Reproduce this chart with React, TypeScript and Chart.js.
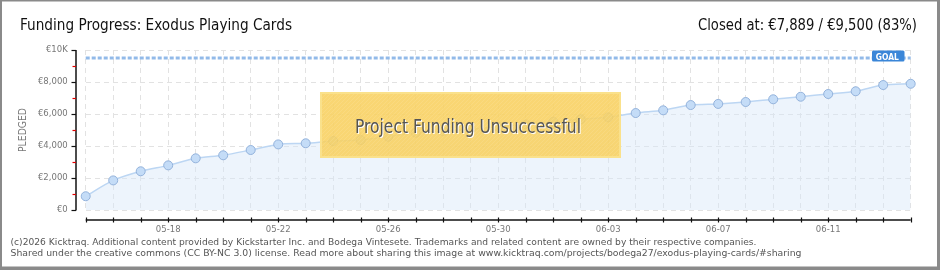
import React, { useEffect, useRef } from 'react';
import { Chart, registerables } from 'chart.js';

Chart.register(...registerables);

const titleLeft = 'Funding Progress: Exodus Playing Cards';
const titleRight = 'Closed at: €7,889 / €9,500 (83%)';
const overlayText = 'Project Funding Unsuccessful';
const footerLines = [
  '(c)2026 Kicktraq. Additional content provided by Kickstarter Inc. and Bodega Vintesete. Trademarks and related content are owned by their respective companies.',
  'Shared under the creative commons (CC BY-NC 3.0) license. Read more about sharing this image at www.kicktraq.com/projects/bodega27/exodus-playing-cards/#sharing',
];

const dates = [
  '05-15', '05-16', '05-17', '05-18', '05-19', '05-20', '05-21', '05-22',
  '05-23', '05-24', '05-25', '05-26', '05-27', '05-28', '05-29', '05-30',
  '05-31', '06-01', '06-02', '06-03', '06-04', '06-05', '06-06', '06-07',
  '06-08', '06-09', '06-10', '06-11', '06-12', '06-13', '06-14',
];
const shownDates = ['05-18', '05-22', '05-26', '05-30', '06-03', '06-07', '06-11'];

const pledged = [
  860, 1850, 2420, 2790, 3230, 3420, 3750, 4100, 4170, 4310, 4370, 4580, 4830,
  4920, 5050, 5200, 5350, 5520, 5670, 5790, 6060, 6230, 6560, 6630, 6750, 6920,
  7080, 7250, 7420, 7810, 7889,
];
const goal = 9500;
const goalSeries = dates.map(() => goal);

const yMax = 10000;
const yStep = 2000;
const yMinorStep = 1000;

const FONT = '"DejaVu Sans", sans-serif';
const FONT_C = '"DejaVu Sans Condensed", "DejaVu Sans", sans-serif';

function drawFitted(
  ctx: CanvasRenderingContext2D,
  text: string,
  x: number,
  y: number,
  font: string,
  width: number,
  align: 'left' | 'right' | 'center',
) {
  ctx.save();
  ctx.font = font;
  const w = ctx.measureText(text).width;
  const s = width / w;
  let x0 = x;
  if (align === 'right') x0 = x - width;
  if (align === 'center') x0 = x - width / 2;
  ctx.translate(x0, y);
  ctx.scale(s, 1);
  ctx.textAlign = 'left';
  ctx.textBaseline = 'alphabetic';
  ctx.fillText(text, 0, 0);
  ctx.restore();
}

const decor = {
  id: 'decor',
  beforeDraw(chart: any) {
    const ctx = chart.ctx as CanvasRenderingContext2D;
    ctx.save();
    ctx.fillStyle = '#ffffff';
    ctx.fillRect(0, 0, chart.width, chart.height);
    ctx.restore();
  },
  afterDatasetsDraw(chart: any) {
    const ctx = chart.ctx as CanvasRenderingContext2D;
    const x0 = 320, y0 = 92, w = 301, h = 66;
    ctx.save();
    ctx.fillStyle = 'rgba(248, 208, 96, 0.88)';
    ctx.fillRect(x0, y0, w, h);
    ctx.beginPath();
    ctx.rect(x0, y0, w, h);
    ctx.clip();
    ctx.strokeStyle = 'rgba(255, 240, 190, 0.18)';
    ctx.lineWidth = 1;
    for (let i = -h; i < w + h; i += 4) {
      ctx.beginPath();
      ctx.moveTo(x0 + i, y0 + h);
      ctx.lineTo(x0 + i + h, y0);
      ctx.stroke();
    }
    ctx.restore();
    ctx.save();
    ctx.strokeStyle = 'rgba(250, 226, 140, 0.95)';
    ctx.lineWidth = 2;
    ctx.strokeRect(x0 + 1, y0 + 1, w - 2, h - 2);
    ctx.restore();
    ctx.save();
    ctx.shadowColor = '#ffffff';
    ctx.shadowOffsetX = 1;
    ctx.shadowOffsetY = 1;
    ctx.shadowBlur = 0;
    ctx.fillStyle = '#555555';
    drawFitted(ctx, overlayText, 468, 133, `19.5px ${FONT_C}`, 226, 'center');
    ctx.restore();
  },
  afterDraw(chart: any) {
    const ctx = chart.ctx as CanvasRenderingContext2D;
    const xs = chart.scales.x;
    const ys = chart.scales.y;

    // outer frame
    ctx.save();
    ctx.fillStyle = '#8a8a8a';
    ctx.fillRect(0, 0, 940, 1.5);
    ctx.fillRect(0, 0, 2, 270);
    ctx.fillRect(937, 0, 3, 270);
    ctx.fillRect(0, 266.5, 940, 3.5);
    ctx.restore();

    // titles
    ctx.save();
    ctx.fillStyle = '#111111';
    drawFitted(ctx, titleLeft, 20, 29.5, `15px ${FONT_C}`, 272, 'left');
    drawFitted(ctx, titleRight, 917, 29.5, `15px ${FONT_C}`, 219, 'right');
    ctx.restore();

    // y axis line and ticks
    const axX = 76;
    ctx.save();
    ctx.strokeStyle = '#111111';
    ctx.lineWidth = 1.5;
    ctx.beginPath();
    ctx.moveTo(axX, ys.getPixelForValue(yMax));
    ctx.lineTo(axX, ys.getPixelForValue(0) + 0.5);
    ctx.stroke();
    for (let v = 0; v <= yMax; v += yMinorStep) {
      const py = Math.round(ys.getPixelForValue(v)) + 0.5;
      const major = v % yStep === 0;
      ctx.strokeStyle = major ? '#111111' : '#e00000';
      ctx.lineWidth = 1.2;
      ctx.beginPath();
      ctx.moveTo(major ? 71.5 : 72.5, py);
      ctx.lineTo(axX, py);
      ctx.stroke();
    }
    ctx.restore();

    // x axis line and ticks
    const axY = 220;
    ctx.save();
    ctx.strokeStyle = '#111111';
    ctx.lineWidth = 1.5;
    ctx.beginPath();
    ctx.moveTo(xs.getPixelForValue(0), axY);
    ctx.lineTo(xs.getPixelForValue(dates.length - 1), axY);
    ctx.stroke();
    ctx.lineWidth = 1.2;
    for (let i = 0; i < dates.length; i++) {
      const px = Math.round(xs.getPixelForValue(i)) + 0.5;
      ctx.beginPath();
      ctx.moveTo(px, axY - 2.5);
      ctx.lineTo(px, axY + 2.5);
      ctx.stroke();
    }
    ctx.restore();

    // y axis title
    ctx.save();
    ctx.fillStyle = '#777777';
    ctx.translate(25.5, 130);
    ctx.rotate(-Math.PI / 2);
    drawFitted(ctx, 'PLEDGED', 0, 0, `10px ${FONT}`, 44, 'center');
    ctx.restore();

    // GOAL label
    const gy = ys.getPixelForValue(goal);
    const bx1 = 872, bx2 = 904.5;
    ctx.save();
    ctx.fillStyle = '#3a86d8';
    ctx.beginPath();
    ctx.roundRect(bx1, gy - 7.5, bx2 - bx1, 11, 1.5);
    ctx.fill();
    ctx.fillStyle = '#ffffff';
    drawFitted(ctx, 'GOAL', (bx1 + bx2) / 2 - 1, gy + 1.5, `bold 9.5px ${FONT}`, 23, 'center');
    ctx.restore();

    // footer
    ctx.save();
    ctx.fillStyle = '#555555';
    drawFitted(ctx, footerLines[0], 10.5, 245, `9px ${FONT}`, 746, 'left');
    drawFitted(ctx, footerLines[1], 10.5, 255.5, `9px ${FONT}`, 791, 'left');
    ctx.restore();
  },
};

export default function App() {
  const ref = useRef<HTMLCanvasElement | null>(null);

  useEffect(() => {
    document.body.style.margin = '0';
    const canvas = ref.current;
    if (!canvas) return;
    const chart = new Chart(canvas, {
      type: 'line',
      data: {
        labels: dates,
        datasets: [
          {
            label: 'Goal',
            data: goalSeries,
            borderColor: 'rgba(140, 182, 232, 0.95)',
            borderWidth: 3,
            borderDash: [4, 2],
            pointRadius: 0,
            fill: false,
            tension: 0,
          },
          {
            label: 'Pledged',
            data: pledged,
            borderColor: '#bcd6f3',
            borderWidth: 1.5,
            backgroundColor: 'rgba(214, 230, 249, 0.45)',
            fill: 'origin',
            tension: 0.3,
            pointRadius: 4.5,
            pointBackgroundColor: '#c4dcf7',
            pointBorderColor: '#94b3dc',
            pointBorderWidth: 1,
          },
        ],
      },
      options: {
        responsive: false,
        animation: false,
        devicePixelRatio: 1,
        layout: { padding: { left: 0, top: 50, right: 29.3, bottom: 0 } },
        plugins: {
          legend: { display: false },
          tooltip: { enabled: false },
          title: { display: false },
        },
        scales: {
          x: {
            type: 'category',
            offset: false,
            afterFit: (s: any) => { s.height = 60; },
            border: { display: false, dash: [5, 4] },
            grid: { color: '#e2e2e2', lineWidth: 1, drawTicks: false },
            ticks: {
              autoSkip: false,
              maxRotation: 0,
              padding: 15,
              color: '#777777',
              font: { family: FONT, size: 8.5 },
              callback: (_v: any, i: number) => (shownDates.includes(dates[i]) ? dates[i] : ''),
            },
          },
          y: {
            min: 0,
            max: yMax,
            afterFit: (s: any) => { s.width = 85.7; },
            border: { display: false, dash: [5, 4] },
            grid: { color: '#e2e2e2', lineWidth: 1, drawTicks: false },
            ticks: {
              stepSize: yStep,
              padding: 18,
              color: '#777777',
              font: { family: FONT, size: 8.5 },
              callback: (v: any) => (v === yMax ? '€10K' : '€' + Number(v).toLocaleString('en-US')),
            },
          },
        },
      },
      plugins: [decor],
    });
    return () => chart.destroy();
  }, []);

  return (
    <div style={{ width: 940, height: 270 }}>
      <canvas ref={ref} width={940} height={270} style={{ display: 'block', width: 940, height: 270 }} />
    </div>
  );
}
